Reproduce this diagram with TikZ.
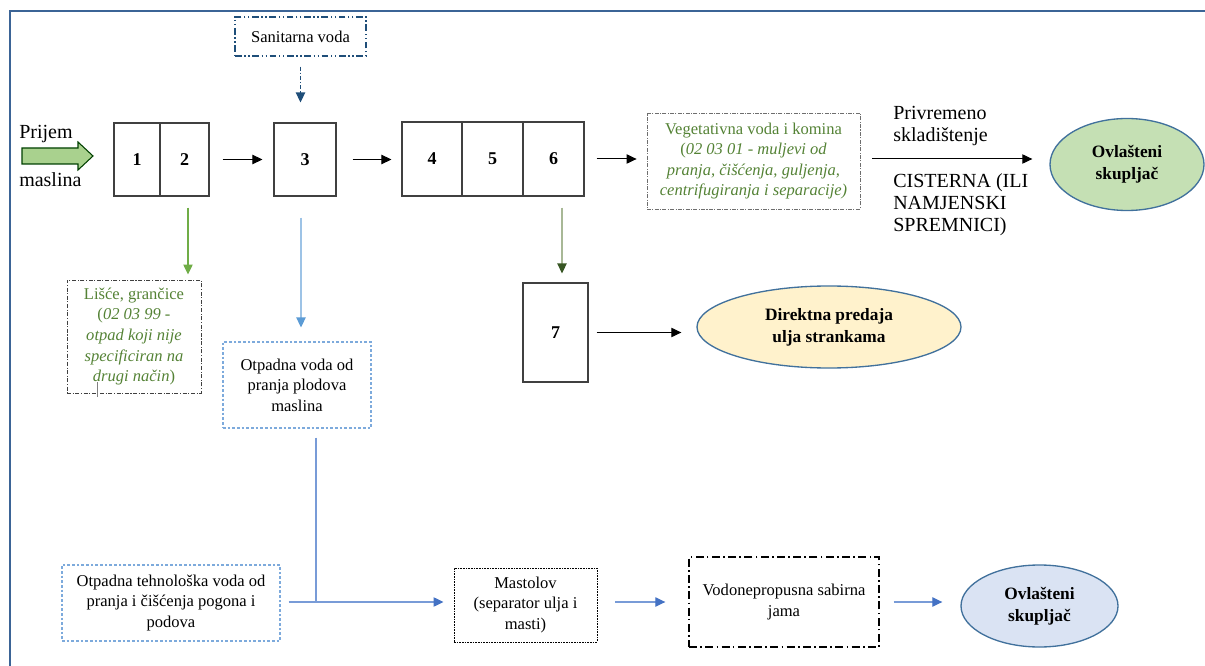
\documentclass[tikz,border=0pt]{standalone}
\usepackage{fontspec}
\setmainfont{Liberation Serif}
\usetikzlibrary{arrows.meta,shapes.geometric}
\definecolor{framecol}{RGB}{59,100,150}
\definecolor{darkblue}{RGB}{31,78,121}
\definecolor{tgreen}{RGB}{84,130,53}
\definecolor{garrow}{RGB}{112,173,71}
\definecolor{oliveline}{RGB}{168,184,150}
\definecolor{olivetip}{RGB}{55,86,35}
\definecolor{lblueline}{RGB}{157,195,230}
\definecolor{lbluetip}{RGB}{91,155,213}
\definecolor{bline}{RGB}{120,155,215}
\definecolor{btip}{RGB}{68,114,196}
\definecolor{boxdash}{RGB}{125,170,220}
\definecolor{eblue}{RGB}{65,113,156}
\definecolor{egreen}{RGB}{197,224,180}
\definecolor{eyellow}{RGB}{255,242,204}
\definecolor{eblueb}{RGB}{218,227,243}
\definecolor{bigarrow}{RGB}{169,209,142}
\definecolor{boxgray}{RGB}{64,64,64}
\definecolor{vgray}{RGB}{110,110,110}
\begin{document}
\begin{tikzpicture}[x=0.75pt,y=-0.75pt,
  font=\fontsize{12.4}{15.4}\selectfont,
  box/.style={draw=boxgray, line width=0.8pt, inner sep=0pt, align=center},
  num/.style={box, font=\fontsize{13.5}{16}\selectfont\bfseries},
  ell/.style={ellipse, draw=eblue, line width=1pt, inner sep=0pt, align=center,
    font=\fontsize{13}{16.5}\selectfont\bfseries},
  lbl/.style={inner sep=0pt, align=left, font=\fontsize{15}{16.5}\selectfont},
  arr/.style={-{Triangle[length=7.5pt,width=7pt]}, line width=0.75pt},
  barr/.style={-{Triangle[length=7.5pt,width=7pt,color=btip]}, draw=bline, line width=0.9pt},
  bluedash/.style={draw=boxdash, line width=0.8pt, dash pattern=on 2pt off 1.5pt},
  frame/.style={draw=framecol, line width=1.5pt}]
\useasboundingbox (0,0) rectangle (1205,666);
\draw[frame] (10,666) -- (10,11) -- (1205,11);

% input arrow
\draw[draw=black!75!green, fill=bigarrow, line width=0.8pt]
  (22,148) -- (78,148) -- (78,142) -- (93,156) -- (78,170) -- (78,164) -- (22,164) -- cycle;
\node[lbl, anchor=west] (prijem) at (19,134) {Prijem};
\node[lbl, anchor=west] (maslina) at (19,180) {maslina};

% process boxes
\node[num, minimum width=34.5pt, minimum height=54.75pt] (b1) at (137,159.5) {1};
\node[num, minimum width=36.75pt, minimum height=54.75pt] (b2) at (184.5,159.5) {2};
\node[num, minimum width=46.5pt, minimum height=54.75pt] (b3) at (305,159.5) {3};
\node[num, minimum width=45pt, minimum height=55.5pt] (b4) at (432,159) {4};
\node[num, minimum width=45.75pt, minimum height=55.5pt] (b5) at (492.5,159) {5};
\node[num, minimum width=45.75pt, minimum height=55.5pt] (b6) at (553.5,159) {6};
\node[num, minimum width=48.75pt, minimum height=74.25pt] (b7) at (555.5,332.5) {7};

% sanitarna
\node[box, draw=darkblue, line width=0.9pt, dash pattern=on 5pt off 2pt on 1pt off 2pt on 1pt off 2pt,
  minimum width=98.25pt, minimum height=29.25pt] (san) at (300.5,36.5) {Sanitarna voda};

% vegetativna
\node[box, draw=vgray, line width=0.6pt, dash pattern=on 3pt off 1pt on 0.8pt off 1pt,
  minimum width=159.75pt, minimum height=72pt, text=tgreen] (veg) at (753.5,161)
  {Vegetativna voda i komina\\(\textit{02 03 01 - muljevi od}\\\textit{pranja, čišćenja, guljenja,}\\\textit{centrifugiranja i separacije)}};

\node[ell, fill=egreen, minimum width=115.5pt, minimum height=69pt] (ell1) at (1127,164.5) {Ovlašteni\\skupljač};
\node[lbl, anchor=west] (priv) at (893,126) {Privremeno\\skladištenje};
\node[lbl, anchor=west] (cist) at (893,204.5) {CISTERNA (ILI\\NAMJENSKI\\SPREMNICI)};

% lisce
\node[box, draw=boxgray, line width=0.7pt, dash pattern=on 3pt off 1.2pt on 0.8pt off 1.2pt,
  text=tgreen, minimum width=100.5pt, minimum height=84.75pt] (lisce) at (134,336.5)
  {Lišće, grančice\\(\textit{02 03 99 -}\\\textit{otpad koji nije}\\\textit{specificiran na}\\\textit{drugi način})};
\draw[gray, line width=0.6pt] (97,382) -- (97,397);

% otpadna voda
\node[box, bluedash, minimum width=111pt, minimum height=64.5pt] (otp) at (297,385)
  {Otpadna voda od\\pranja plodova\\maslina};

\node[ell, fill=eyellow, minimum width=198pt, minimum height=61.5pt] (dir) at (829,327) {Direktna predaja\\ulja strankama};

% bottom row
\node[box, bluedash, minimum width=163.5pt, minimum height=57pt] (teh) at (171,603)
  {Otpadna tehnološka voda od\\pranja i čišćenja pogona i\\podova};
\node[box, draw=black, line width=0.7pt, dash pattern=on 1.2pt off 0.8pt,
  minimum width=107.25pt, minimum height=55.5pt] (mast) at (525.5,605) {Mastolov\\(separator ulja i\\masti)};
\node[box, draw=black, line width=1pt, dash pattern=on 6pt off 2.5pt on 1.2pt off 2.5pt,
  minimum width=142.5pt, minimum height=67.5pt] (vodo) at (784,602) {Vodonepropusna sabirna\\jama};
\node[ell, fill=eblueb, minimum width=117.75pt, minimum height=61.5pt] (ell2) at (1039.5,606) {Ovlašteni\\skupljač};

\coordinate (c188) at (188,0);
\coordinate (c301) at (301,0);
\coordinate (c562) at (562,0);
\coordinate (j) at (316,602);

% connectors
\draw[line width=0.9pt, draw=darkblue, -{Triangle[length=7.5pt,width=7pt,color=darkblue]}, dash pattern=on 3pt off 1.5pt on 1pt off 1.5pt,
  shorten <=7.5pt, shorten >=15pt] (san.south) -- (san.south |- b3.north);
\draw[arr, shorten <=9.75pt, shorten >=8.25pt] (b2.east) -- (b3.west);
\draw[arr, shorten <=12pt, shorten >=7.5pt] (b3.east) -- (b3.east -| b4.west);
\draw[arr, shorten <=9pt, shorten >=7.5pt] (b6.east) -- (b6.east -| veg.west);
\draw[arr, shorten <=9pt, shorten >=12.75pt] (b6.east -| veg.east) -- (b6.east -| ell1.west);
\draw[-{Triangle[length=7.5pt,width=7pt]}, draw=garrow, line width=0.9pt, shorten <=8.25pt, shorten >=3.75pt]
  (b2.south -| c188) -- (lisce.north -| c188);
\draw[-{Triangle[length=7.5pt,width=7pt,color=lbluetip]}, draw=lblueline, line width=0.9pt, shorten <=15.75pt, shorten >=10.5pt]
  (b3.south -| c301) -- (otp.north -| c301);
\draw[-{Triangle[length=7.5pt,width=7pt,color=olivetip]}, draw=oliveline, line width=0.9pt, shorten <=8.25pt, shorten >=6.75pt]
  (b6.south -| c562) -- (b7.north -| c562);
\draw[arr, shorten <=6pt, shorten >=11.25pt] (b7.east) -- (b7.east -| dir.west);
\draw[draw=bline, line width=0.9pt, shorten <=6.75pt] (otp.south -| j) -- (j);
\draw[barr, shorten <=6pt, shorten >=7.5pt] (teh.east |- j) -- (mast.west |- j);
\draw[barr, shorten <=13.5pt, shorten >=17.25pt] (mast.east |- j) -- (vodo.west |- j);
\draw[barr, shorten <=10.5pt, shorten >=13.5pt] (vodo.east |- j) -- (ell2.west |- j);
\end{tikzpicture}
\end{document}
